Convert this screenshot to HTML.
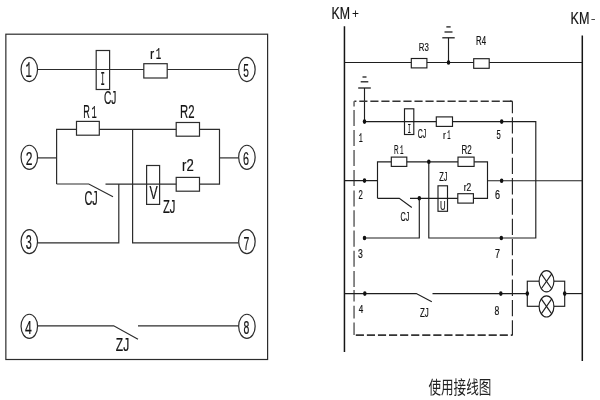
<!DOCTYPE html>
<html><head><meta charset="utf-8"><title>Relay wiring diagram</title>
<style>
html,body{margin:0;padding:0;background:#fff;}
body{width:600px;height:400px;overflow:hidden;font-family:"Liberation Sans",sans-serif;}
svg{display:block;will-change:transform}
</style></head><body>
<svg width="600" height="400" viewBox="0 0 600 400">
<rect width="600" height="400" fill="#fff"/>
<rect x="5.85" y="34.2" width="261.75" height="325.3" fill="none" stroke="#2c2c2c" stroke-width="1.2" />
<line x1="37.55" y1="69.5" x2="238.65" y2="69.5" stroke="#2c2c2c" stroke-width="1.2" />
<rect x="96.2" y="50.5" width="13.4" height="39.0" fill="none" stroke="#2c2c2c" stroke-width="1.2" />
<rect x="143.8" y="63.7" width="23.4" height="14.3" fill="#fff" stroke="#2c2c2c" stroke-width="1.2" />
<line x1="37.55" y1="157.9" x2="56.6" y2="157.9" stroke="#2c2c2c" stroke-width="1.2" />
<line x1="219.5" y1="157.9" x2="238.65" y2="157.9" stroke="#2c2c2c" stroke-width="1.2" />
<polyline points="56.6,184 56.6,129.4 219.5,129.4 219.5,184.1 105.5,184.1" fill="none" stroke="#2c2c2c" stroke-width="1.2" />
<polyline points="56.6,184 88.8,184 113,196.8" fill="none" stroke="#2c2c2c" stroke-width="1.2" />
<rect x="76.5" y="121.4" width="22.8" height="13.8" fill="#fff" stroke="#2c2c2c" stroke-width="1.2" />
<rect x="176.2" y="122.5" width="23.3" height="13.7" fill="#fff" stroke="#2c2c2c" stroke-width="1.2" />
<rect x="176.2" y="177.4" width="23.3" height="13.8" fill="#fff" stroke="#2c2c2c" stroke-width="1.2" />
<rect x="146.6" y="165.5" width="13.0" height="38.9" fill="none" stroke="#2c2c2c" stroke-width="1.2" />
<polyline points="118.8,184.1 118.8,242.8 37.55,242.8" fill="none" stroke="#2c2c2c" stroke-width="1.2" />
<polyline points="132.6,129.4 132.6,242.8 238.65,242.8" fill="none" stroke="#2c2c2c" stroke-width="1.2" />
<polyline points="37.55,325.8 113.7,325.8 138,339.2" fill="none" stroke="#2c2c2c" stroke-width="1.2" />
<line x1="138" y1="325.8" x2="238.65" y2="325.8" stroke="#2c2c2c" stroke-width="1.2" />
<ellipse cx="29.3" cy="69.5" rx="8.25" ry="12.05" fill="#fff" stroke="#2c2c2c" stroke-width="1.2"/>
<ellipse cx="246.9" cy="69.5" rx="8.25" ry="12.05" fill="#fff" stroke="#2c2c2c" stroke-width="1.2"/>
<ellipse cx="29.3" cy="157.3" rx="8.25" ry="12.05" fill="#fff" stroke="#2c2c2c" stroke-width="1.2"/>
<ellipse cx="246.9" cy="157.3" rx="8.25" ry="12.05" fill="#fff" stroke="#2c2c2c" stroke-width="1.2"/>
<ellipse cx="29.3" cy="241.6" rx="8.25" ry="12.05" fill="#fff" stroke="#2c2c2c" stroke-width="1.2"/>
<ellipse cx="246.9" cy="241.6" rx="8.25" ry="12.05" fill="#fff" stroke="#2c2c2c" stroke-width="1.2"/>
<ellipse cx="29.3" cy="326.3" rx="8.25" ry="12.05" fill="#fff" stroke="#2c2c2c" stroke-width="1.2"/>
<ellipse cx="246.9" cy="326.3" rx="8.25" ry="12.05" fill="#fff" stroke="#2c2c2c" stroke-width="1.2"/>
<text transform="translate(25.50,77.00) scale(0.493,1)" font-family="Liberation Mono" font-size="21.29" fill="#141414" stroke="#141414" stroke-width="0.22" >1</text>
<text transform="translate(25.80,164.80) scale(0.633,1)" font-family="Liberation Sans" font-size="19.07" fill="#141414" stroke="#141414" stroke-width="0.22" >2</text>
<text transform="translate(25.80,248.80) scale(0.554,1)" font-family="Liberation Sans" font-size="19.51" fill="#141414" stroke="#141414" stroke-width="0.22" >3</text>
<text transform="translate(25.00,333.60) scale(0.648,1)" font-family="Liberation Sans" font-size="18.91" fill="#141414" stroke="#141414" stroke-width="0.22" >4</text>
<text transform="translate(243.25,77.41) scale(0.533,1)" font-family="Liberation Sans" font-size="18.92" fill="#141414" stroke="#141414" stroke-width="0.22" >5</text>
<text transform="translate(243.00,164.61) scale(0.575,1)" font-family="Liberation Sans" font-size="18.80" fill="#141414" stroke="#141414" stroke-width="0.22" >6</text>
<text transform="translate(243.45,250.20) scale(0.557,1)" font-family="Liberation Sans" font-size="18.76" fill="#141414" stroke="#141414" stroke-width="0.22" >7</text>
<text transform="translate(243.45,333.91) scale(0.560,1)" font-family="Liberation Sans" font-size="18.66" fill="#141414" stroke="#141414" stroke-width="0.22" >8</text>
<text transform="translate(150.00,59.40) scale(0.893,1)" font-family="Liberation Sans" font-size="14.14" fill="#141414" stroke="#141414" stroke-width="0.22" >r</text>
<text transform="translate(155.80,59.40) scale(0.563,1)" font-family="Liberation Mono" font-size="16.27" fill="#141414" stroke="#141414" stroke-width="0.22" >1</text>
<text transform="translate(104.00,104.11) scale(0.548,1)" font-family="Liberation Sans" font-size="18.52" fill="#141414" stroke="#141414" stroke-width="0.22" >CJ</text>
<text transform="translate(100.50,85.20) scale(0.371,1)" font-family="Liberation Mono" font-size="19.77" fill="#141414" stroke="#141414" stroke-width="0.22" >I</text>
<text transform="translate(83.20,118.00) scale(0.515,1)" font-family="Liberation Sans" font-size="17.75" fill="#141414" stroke="#141414" stroke-width="0.22" >R</text>
<text transform="translate(91.60,118.00) scale(0.476,1)" font-family="Liberation Mono" font-size="18.56" fill="#141414" stroke="#141414" stroke-width="0.22" >1</text>
<text transform="translate(180.00,117.60) scale(0.644,1)" font-family="Liberation Sans" font-size="17.63" fill="#141414" stroke="#141414" stroke-width="0.22" >R2</text>
<text transform="translate(182.10,171.40) scale(0.777,1)" font-family="Liberation Sans" font-size="16.92" fill="#141414" stroke="#141414" stroke-width="0.22" >r2</text>
<text transform="translate(149.40,199.40) scale(0.640,1)" font-family="Liberation Sans" font-size="19.20" fill="#141414" stroke="#141414" stroke-width="0.22" >V</text>
<text transform="translate(163.00,212.81) scale(0.595,1)" font-family="Liberation Sans" font-size="18.92" fill="#141414" stroke="#141414" stroke-width="0.22" >ZJ</text>
<text transform="translate(84.40,205.00) scale(0.554,1)" font-family="Liberation Sans" font-size="19.65" fill="#141414" stroke="#141414" stroke-width="0.22" >CJ</text>
<text transform="translate(115.85,350.91) scale(0.633,1)" font-family="Liberation Sans" font-size="19.07" fill="#141414" stroke="#141414" stroke-width="0.22" >ZJ</text>
<line x1="344.45" y1="26.3" x2="344.45" y2="352" stroke="#151515" stroke-width="1.5" />
<line x1="582.3" y1="35.4" x2="582.3" y2="361" stroke="#151515" stroke-width="1.5" />
<line x1="344.45" y1="62.5" x2="582.3" y2="62.5" stroke="#1e1e1e" stroke-width="1.15" />
<rect x="411.3" y="58.5" width="15.6" height="9.4" fill="#fff" stroke="#1e1e1e" stroke-width="1.15" />
<rect x="473.7" y="58.7" width="15.5" height="9.6" fill="#fff" stroke="#1e1e1e" stroke-width="1.15" />
<line x1="448.5" y1="37.8" x2="448.5" y2="62.5" stroke="#1e1e1e" stroke-width="1.15" />
<line x1="442.3" y1="37.8" x2="454.7" y2="37.8" stroke="#1e1e1e" stroke-width="1.3" />
<line x1="444.5" y1="32.0" x2="452.5" y2="32.0" stroke="#1e1e1e" stroke-width="1.3" />
<line x1="446.35" y1="26.9" x2="450.65" y2="26.9" stroke="#1e1e1e" stroke-width="1.3" />
<ellipse cx="448.5" cy="62.5" rx="1.75" ry="2.3" fill="#111"/>
<line x1="364.5" y1="88" x2="364.5" y2="121.6" stroke="#1e1e1e" stroke-width="1.15" />
<line x1="358.2" y1="88" x2="370.8" y2="88" stroke="#1e1e1e" stroke-width="1.3" />
<line x1="360.7" y1="81.8" x2="368.3" y2="81.8" stroke="#1e1e1e" stroke-width="1.3" />
<line x1="362.5" y1="77" x2="366.5" y2="77" stroke="#1e1e1e" stroke-width="1.3" />
<line x1="354.3" y1="101.2" x2="512.3" y2="101.2" stroke="#333" stroke-width="1.6" stroke-dasharray="8.15 2.88" stroke-dashoffset="6.03"/>
<line x1="510" y1="101.2" x2="512.4" y2="101.2" stroke="#2a2a2a" stroke-width="1.6" />
<line x1="354.3" y1="335.1" x2="512.3" y2="335.1" stroke="#333" stroke-width="1.6" stroke-dasharray="8.15 2.92" stroke-dashoffset="9.57"/>
<line x1="354.05" y1="101.2" x2="354.05" y2="106.6" stroke="#505050" stroke-width="1.35" />
<line x1="354.05" y1="110" x2="354.05" y2="126" stroke="#505050" stroke-width="1.35" />
<line x1="354.05" y1="130" x2="354.05" y2="146" stroke="#505050" stroke-width="1.35" />
<line x1="354.05" y1="150" x2="354.05" y2="166" stroke="#505050" stroke-width="1.35" />
<line x1="354.05" y1="170" x2="354.05" y2="186" stroke="#505050" stroke-width="1.35" />
<line x1="354.05" y1="190.4" x2="354.05" y2="206.6" stroke="#505050" stroke-width="1.35" />
<line x1="354.05" y1="210.3" x2="354.05" y2="226.7" stroke="#505050" stroke-width="1.35" />
<line x1="354.05" y1="230.6" x2="354.05" y2="246.8" stroke="#505050" stroke-width="1.35" />
<line x1="354.05" y1="250.7" x2="354.05" y2="266.8" stroke="#505050" stroke-width="1.35" />
<line x1="354.05" y1="270.9" x2="354.05" y2="287" stroke="#505050" stroke-width="1.35" />
<line x1="354.05" y1="290" x2="354.05" y2="301.6" stroke="#505050" stroke-width="1.35" />
<line x1="354.05" y1="305.8" x2="354.05" y2="318.4" stroke="#505050" stroke-width="1.35" />
<line x1="354.05" y1="322.4" x2="354.05" y2="334.9" stroke="#505050" stroke-width="1.35" />
<line x1="512.4" y1="101.2" x2="512.4" y2="335.4" stroke="#222" stroke-width="1.15" stroke-dasharray="16.3 4.0" stroke-dashoffset="4.3"/>
<polyline points="364.5,121.6 535.8,121.6 535.8,238.0 428.8,238.0 428.8,161.8" fill="none" stroke="#1e1e1e" stroke-width="1.15" />
<ellipse cx="364.5" cy="121.6" rx="1.75" ry="2.3" fill="#111"/>
<ellipse cx="501.7" cy="121.6" rx="1.75" ry="2.3" fill="#111"/>
<rect x="404.5" y="108.8" width="9.3" height="25.7" fill="none" stroke="#1e1e1e" stroke-width="1.15" />
<rect x="436.3" y="116.9" width="16.2" height="9.5" fill="#fff" stroke="#1e1e1e" stroke-width="1.15" />
<line x1="344.45" y1="180.6" x2="377.5" y2="180.6" stroke="#1e1e1e" stroke-width="1.15" />
<ellipse cx="364.5" cy="180.6" rx="1.75" ry="2.3" fill="#111"/>
<polyline points="377.5,198.3 377.5,161.8 487.5,161.8 487.5,198.3 410,198.3" fill="none" stroke="#1e1e1e" stroke-width="1.15" />
<polyline points="377.5,198.3 399.3,198.3 411.8,207.5" fill="none" stroke="#1e1e1e" stroke-width="1.15" />
<rect x="391.3" y="157.1" width="15.5" height="9.3" fill="#fff" stroke="#1e1e1e" stroke-width="1.15" />
<rect x="458" y="157.1" width="16.1" height="9.3" fill="#fff" stroke="#1e1e1e" stroke-width="1.15" />
<rect x="457.8" y="193.7" width="15.6" height="9.4" fill="#fff" stroke="#1e1e1e" stroke-width="1.15" />
<rect x="438" y="185.8" width="9.5" height="25.5" fill="none" stroke="#1e1e1e" stroke-width="1.15" />
<ellipse cx="428.8" cy="161.8" rx="1.75" ry="2.3" fill="#111"/>
<ellipse cx="419.3" cy="198.3" rx="1.75" ry="2.3" fill="#111"/>
<line x1="487.5" y1="180.7" x2="582.3" y2="180.7" stroke="#1e1e1e" stroke-width="1.15" />
<ellipse cx="501.6" cy="180.7" rx="1.75" ry="2.3" fill="#111"/>
<polyline points="419.3,198.3 419.3,238.0 364.5,238.0" fill="none" stroke="#1e1e1e" stroke-width="1.15" />
<ellipse cx="364.5" cy="238.0" rx="1.75" ry="2.3" fill="#111"/>
<ellipse cx="501.3" cy="238.0" rx="1.75" ry="2.3" fill="#111"/>
<polyline points="344.45,293.6 416.3,293.6 431.8,301.8" fill="none" stroke="#1e1e1e" stroke-width="1.15" />
<ellipse cx="364.8" cy="293.6" rx="1.75" ry="2.3" fill="#111"/>
<line x1="432.5" y1="293.6" x2="527.3" y2="293.6" stroke="#1e1e1e" stroke-width="1.15" />
<ellipse cx="500.8" cy="293.6" rx="1.75" ry="2.3" fill="#111"/>
<rect x="527.3" y="281.2" width="37.4" height="25.1" fill="none" stroke="#1e1e1e" stroke-width="1.15" />
<ellipse cx="546.5" cy="281.3" rx="7.4" ry="10.6" fill="#fff" stroke="#1e1e1e" stroke-width="1.15"/>
<line x1="541.2682" y1="273.80580000000003" x2="551.7318" y2="288.7942" stroke="#1e1e1e" stroke-width="1.15" />
<line x1="541.2682" y1="288.7942" x2="551.7318" y2="273.80580000000003" stroke="#1e1e1e" stroke-width="1.15" />
<ellipse cx="546.5" cy="306.4" rx="7.4" ry="10.6" fill="#fff" stroke="#1e1e1e" stroke-width="1.15"/>
<line x1="541.2682" y1="298.9058" x2="551.7318" y2="313.89419999999996" stroke="#1e1e1e" stroke-width="1.15" />
<line x1="541.2682" y1="313.89419999999996" x2="551.7318" y2="298.9058" stroke="#1e1e1e" stroke-width="1.15" />
<ellipse cx="527.3" cy="293.6" rx="1.75" ry="2.3" fill="#111"/>
<ellipse cx="564.7" cy="293.6" rx="1.75" ry="2.3" fill="#111"/>
<line x1="564.7" y1="293.6" x2="582.3" y2="293.6" stroke="#1e1e1e" stroke-width="1.15" />
<text transform="translate(331.50,19.30) scale(0.725,1)" font-family="Liberation Sans" font-size="17.02" fill="#141414" stroke="#141414" stroke-width="0.22" >KM</text>
<text transform="translate(352.30,17.70) scale(0.891,1)" font-family="Liberation Sans" font-size="12.47" fill="#141414" stroke="#141414" stroke-width="0.22" >+</text>
<text transform="translate(570.60,24.00) scale(0.734,1)" font-family="Liberation Sans" font-size="17.16" fill="#141414" stroke="#141414" stroke-width="0.22" >KM</text>
<text transform="translate(591.20,20.80) scale(1.789,1)" font-family="Liberation Sans" font-size="6.56" fill="#141414" stroke="#141414" stroke-width="0.22" >-</text>
<text transform="translate(418.80,51.18) scale(0.667,1)" font-family="Liberation Sans" font-size="11.73" fill="#141414" stroke="#141414" stroke-width="0.22" >R3</text>
<text transform="translate(476.00,45.00) scale(0.648,1)" font-family="Liberation Sans" font-size="12.07" fill="#141414" stroke="#141414" stroke-width="0.22" >R4</text>
<text transform="translate(407.50,132.90) scale(0.436,1)" font-family="Liberation Mono" font-size="13.38" fill="#141414" stroke="#141414" stroke-width="0.22" >I</text>
<text transform="translate(417.80,137.97) scale(0.535,1)" font-family="Liberation Sans" font-size="13.00" fill="#141414" stroke="#141414" stroke-width="0.22" >CJ</text>
<text transform="translate(443.00,138.80) scale(0.794,1)" font-family="Liberation Sans" font-size="10.60" fill="#141414" stroke="#141414" stroke-width="0.22" >r</text>
<text transform="translate(447.30,138.80) scale(0.420,1)" font-family="Liberation Mono" font-size="13.08" fill="#141414" stroke="#141414" stroke-width="0.22" >1</text>
<text transform="translate(358.70,141.90) scale(0.516,1)" font-family="Liberation Mono" font-size="12.93" fill="#141414" stroke="#141414" stroke-width="0.22" >1</text>
<text transform="translate(394.00,154.30) scale(0.503,1)" font-family="Liberation Sans" font-size="12.65" fill="#141414" stroke="#141414" stroke-width="0.22" >R</text>
<text transform="translate(400.00,154.30) scale(0.441,1)" font-family="Liberation Mono" font-size="13.23" fill="#141414" stroke="#141414" stroke-width="0.22" >1</text>
<text transform="translate(461.60,154.30) scale(0.640,1)" font-family="Liberation Sans" font-size="12.47" fill="#141414" stroke="#141414" stroke-width="0.22" >R2</text>
<text transform="translate(358.60,199.10) scale(0.621,1)" font-family="Liberation Sans" font-size="12.47" fill="#141414" stroke="#141414" stroke-width="0.22" >2</text>
<text transform="translate(439.20,181.17) scale(0.580,1)" font-family="Liberation Sans" font-size="12.90" fill="#141414" stroke="#141414" stroke-width="0.22" >ZJ</text>
<text transform="translate(440.00,209.87) scale(0.614,1)" font-family="Liberation Sans" font-size="12.62" fill="#141414" stroke="#141414" stroke-width="0.22" >U</text>
<text transform="translate(463.80,190.80) scale(0.754,1)" font-family="Liberation Sans" font-size="11.18" fill="#141414" stroke="#141414" stroke-width="0.22" >r2</text>
<text transform="translate(400.60,221.27) scale(0.560,1)" font-family="Liberation Sans" font-size="13.00" fill="#141414" stroke="#141414" stroke-width="0.22" >CJ</text>
<text transform="translate(496.40,138.68) scale(0.628,1)" font-family="Liberation Sans" font-size="12.04" fill="#141414" stroke="#141414" stroke-width="0.22" >5</text>
<text transform="translate(495.00,199.18) scale(0.750,1)" font-family="Liberation Sans" font-size="12.01" fill="#141414" stroke="#141414" stroke-width="0.22" >6</text>
<text transform="translate(495.00,258.00) scale(0.712,1)" font-family="Liberation Sans" font-size="12.65" fill="#141414" stroke="#141414" stroke-width="0.22" >7</text>
<text transform="translate(358.00,257.57) scale(0.688,1)" font-family="Liberation Sans" font-size="12.58" fill="#141414" stroke="#141414" stroke-width="0.22" >3</text>
<text transform="translate(358.80,313.00) scale(0.697,1)" font-family="Liberation Sans" font-size="11.64" fill="#141414" stroke="#141414" stroke-width="0.22" >4</text>
<text transform="translate(420.00,316.77) scale(0.608,1)" font-family="Liberation Sans" font-size="13.05" fill="#141414" stroke="#141414" stroke-width="0.22" >ZJ</text>
<text transform="translate(494.50,314.88) scale(0.703,1)" font-family="Liberation Sans" font-size="12.30" fill="#141414" stroke="#141414" stroke-width="0.22" >8</text>
<text transform="translate(428.44,394.44) scale(0.687,1)" font-family="'Liberation Sans','Noto Sans CJK SC',sans-serif" font-size="18.34" fill="#222">使用接线图</text>
</svg>
</body></html>
